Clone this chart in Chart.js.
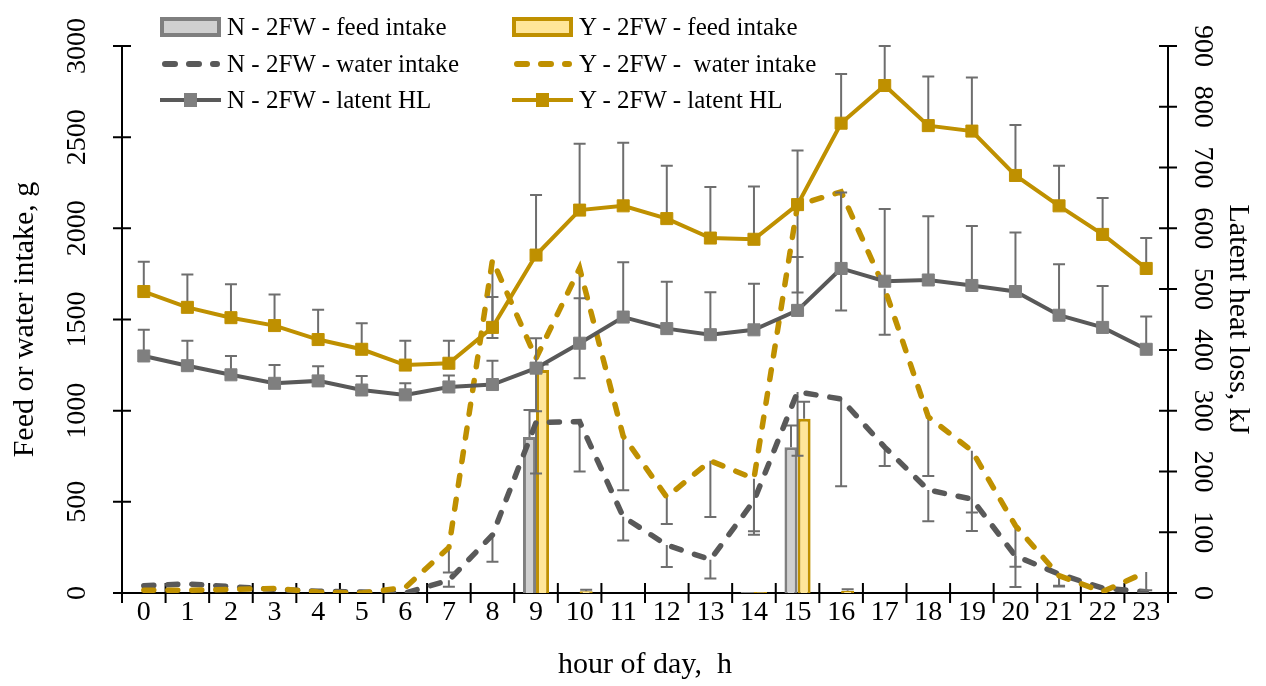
<!DOCTYPE html>
<html>
<head>
<meta charset="utf-8">
<script src="https://cdn.jsdelivr.net/npm/chart.js@4.4.1/dist/chart.umd.min.js"></script>
<style>
    html, body { margin: 0; padding: 0; background: #fff; }
    #wrap { position: relative; width: 1266px; height: 686px; }
    #legend { position: absolute; left: 0; top: 0; font-family: 'Liberation Serif', 'Times New Roman', serif; font-size: 25px; color: #000; }
    .item { position: absolute; display: flex; align-items: center; white-space: pre; height: 30px; }
    .item svg { margin-right: 6px; flex: none; }
</style>
</head>
<body>
<div id="wrap">
    <canvas id="chart" width="1266" height="686"></canvas>
    <div id="legend"></div>
</div>
<script>
// hour of day
const hours = ['0', '1', '2', '3', '4', '5', '6', '7', '8', '9', '10', '11',
               '12', '13', '14', '15', '16', '17', '18', '19', '20', '21', '22', '23'];

// feed intake, g (bars)
const feedN = [0, 0, 0, 0, 0, 0, 0, 0, 0, 855, 0, 0, 0, 0, 5, 800, 0, 0, 0, 0, 0, 0, 0, 0];
const feedY = [0, 0, 0, 0, 0, 0, 0, 0, 0, 1223, 10, 0, 0, 0, 5, 956, 12, 0, 0, 0, 0, 0, 0, 0];
const feedNErr = [0, 0, 0, 0, 0, 0, 0, 0, 0, 148, 0, 0, 0, 0, 0, 119, 0, 0, 0, 0, 0, 0, 0, 0];
const feedYErr = [0, 0, 0, 0, 0, 0, 0, 0, 0, 30, 8, 0, 0, 0, 0, 93, 8, 0, 0, 0, 0, 0, 0, 0];

// water intake, g (dashed lines), error bars point down
const waterN = [40, 50, 35, 20, 10, 5, 0, 70, 318, 935, 940, 418, 263, 183, 506, 1103, 1064, 800, 565, 515, 203, 104, 27, 7];
const waterY = [15, 15, 20, 25, 5, 0, 30, 250, 1826, 1287, 1781, 860, 526, 725, 627, 2128, 2200, 1670, 966, 780, 369, 95, 7, 115];
const waterNErr = [0, 0, 0, 0, 0, 0, 0, 36, 146, 280, 274, 130, 120, 104, 186, 350, 479, 104, 172, 175, 170, 64, 0, 0];
const waterYErr = [0, 0, 0, 0, 0, 0, 0, 137, 428, 290, 603, 296, 148, 308, 288, 480, 650, 254, 324, 339, 225, 60, 0, 100];

// latent heat loss, kJ (right axis), error bars point up
const latentN = [390, 374, 359, 345, 349, 334, 326, 339, 343, 370, 411, 454, 435, 425, 433, 465, 534, 513, 515, 506, 496, 457, 437, 401];
const latentY = [496, 470, 453, 440, 417, 401, 375, 378, 437, 556, 630, 637, 616, 584, 582, 639, 773, 835, 769, 760, 687, 637, 590, 534];
const latentNErr = [43, 41, 31, 30, 24, 23, 19, 19, 39, 49, 74, 90, 77, 70, 76, 88, 125, 119, 105, 98, 97, 84, 68, 54];
const latentYErr = [49, 54, 55, 51, 49, 43, 40, 37, 50, 99, 109, 104, 87, 84, 87, 89, 81, 65, 81, 88, 83, 66, 60, 50];

const leftTicks = [0, 500, 1000, 1500, 2000, 2500, 3000];
const rightTicks = [0, 100, 200, 300, 400, 500, 600, 700, 800, 900];

const gold = '#BF9000';
const goldLight = '#FFE699';
const grayDark = '#595959';
const grayMid = '#7F7F7F';
const grayLight = '#D0D0D0';
const errColor = '#6E6E6E';
const serif = "'Liberation Serif', 'Times New Roman', serif";
const dash = [10, 14];

Chart.defaults.font.family = serif;
Chart.defaults.color = '#000';

// error bars, drawn just under each dataset
const errorBars = {
    id: 'errorBars',
    beforeDatasetDraw(chart, args) {
        const ds = chart.data.datasets[args.index];
        if (!ds.errPlus && !ds.errMinus) return;
        const meta = args.meta;
        const yScale = chart.scales[meta.yAxisID];
        const ctx = chart.ctx;
        const cap = 6;
        ctx.save();
        ctx.strokeStyle = errColor;
        ctx.lineWidth = 2;
        meta.data.forEach((el, i) => {
            const v = ds.data[i];
            const up = ds.errPlus ? ds.errPlus[i] : 0;
            const dn = ds.errMinus ? ds.errMinus[i] : 0;
            const x = el.x;
            const y = yScale.getPixelForValue(v);
            ctx.beginPath();
            if (up) {
                const yt = yScale.getPixelForValue(v + up);
                ctx.moveTo(x, y); ctx.lineTo(x, yt);
                ctx.moveTo(x - cap, yt); ctx.lineTo(x + cap, yt);
            }
            if (dn) {
                const yb = yScale.getPixelForValue(v - dn);
                ctx.moveTo(x, y); ctx.lineTo(x, yb);
                ctx.moveTo(x - cap, yb); ctx.lineTo(x + cap, yb);
            }
            ctx.stroke();
        });
        ctx.restore();
    }
};

// axis lines with crossing tick marks, rotated y labels
const axesPlugin = {
    id: 'axesPlugin',
    beforeDatasetsDraw(chart) {
        const { ctx, chartArea: a, scales } = chart;
        const x = scales.x;
        const step = x.getPixelForValue(1) - x.getPixelForValue(0);
        ctx.save();
        ctx.strokeStyle = '#000';
        ctx.lineWidth = 2;
        ctx.beginPath();
        ctx.moveTo(a.left, a.top); ctx.lineTo(a.left, a.bottom);
        ctx.moveTo(a.right, a.top); ctx.lineTo(a.right, a.bottom);
        ctx.moveTo(a.left, a.bottom); ctx.lineTo(a.right, a.bottom);
        for (let i = 0; i <= hours.length; i++) {
            const px = x.getPixelForValue(0) - step / 2 + i * step;
            ctx.moveTo(px, a.bottom - 10); ctx.lineTo(px, a.bottom + 10);
        }
        leftTicks.forEach(t => {
            const py = scales.yL.getPixelForValue(t);
            ctx.moveTo(a.left - 9, py); ctx.lineTo(a.left + 9, py);
        });
        rightTicks.forEach(t => {
            const py = scales.yR.getPixelForValue(t);
            ctx.moveTo(a.right - 9, py); ctx.lineTo(a.right + 9, py);
        });
        ctx.stroke();

        ctx.fillStyle = '#000';
        ctx.font = '28px ' + serif;
        ctx.textAlign = 'center';
        ctx.textBaseline = 'middle';
        leftTicks.forEach(t => {
            ctx.save();
            ctx.translate(a.left - 44, scales.yL.getPixelForValue(t));
            ctx.rotate(-Math.PI / 2);
            ctx.fillText(String(t), 0, 0);
            ctx.restore();
        });
        rightTicks.forEach(t => {
            ctx.save();
            ctx.translate(a.right + 34, scales.yR.getPixelForValue(t));
            ctx.rotate(Math.PI / 2);
            ctx.fillText(String(t), 0, 0);
            ctx.restore();
        });
        ctx.restore();
    }
};

const ctx = document.getElementById('chart').getContext('2d');

new Chart(ctx, {
    type: 'bar',
    data: {
        labels: hours,
        datasets: [
            {
                type: 'line', label: 'Y - 2FW - latent HL', data: latentY, yAxisID: 'yR', order: 0,
                borderColor: gold, borderWidth: 4, tension: 0,
                pointStyle: 'rect', pointRadius: 8.5, pointBackgroundColor: gold, pointBorderColor: gold, pointBorderWidth: 1,
                errPlus: latentYErr
            },
            {
                type: 'line', label: 'N - 2FW - latent HL', data: latentN, yAxisID: 'yR', order: 1,
                borderColor: grayDark, borderWidth: 4, tension: 0,
                pointStyle: 'rect', pointRadius: 8.5, pointBackgroundColor: grayMid, pointBorderColor: grayMid, pointBorderWidth: 1,
                errPlus: latentNErr
            },
            {
                type: 'line', label: 'Y - 2FW -  water intake', data: waterY, yAxisID: 'yL', order: 2,
                borderColor: gold, borderWidth: 5.5, borderDash: dash, borderCapStyle: 'round', tension: 0,
                pointRadius: 0, errMinus: waterYErr
            },
            {
                type: 'line', label: 'N - 2FW - water intake', data: waterN, yAxisID: 'yL', order: 3,
                borderColor: grayDark, borderWidth: 5.5, borderDash: dash, borderCapStyle: 'round', tension: 0,
                pointRadius: 0, errMinus: waterNErr
            },
            {
                label: 'N - 2FW - feed intake', data: feedN, yAxisID: 'yL', order: 4,
                backgroundColor: grayLight, borderColor: grayMid, borderWidth: 3,
                barPercentage: 1, categoryPercentage: 0.6, errPlus: feedNErr
            },
            {
                label: 'Y - 2FW - feed intake', data: feedY, yAxisID: 'yL', order: 5,
                backgroundColor: goldLight, borderColor: gold, borderWidth: 3,
                barPercentage: 1, categoryPercentage: 0.6, errPlus: feedYErr
            }
        ]
    },
    options: {
        responsive: false,
        animation: false,
        layout: { padding: { top: 46, left: 0, right: 0, bottom: 0 } },
        plugins: {
            legend: { display: false },
            tooltip: { enabled: false }
        },
        scales: {
            x: {
                type: 'category',
                offset: true,
                grid: { display: false, drawTicks: false },
                border: { display: false },
                ticks: { font: { size: 28 }, padding: 3, maxRotation: 0, autoSkip: false },
                title: { display: true, text: 'hour of day,  h', font: { size: 30 }, padding: { top: 0, bottom: 3 } },
                afterFit: (s) => { s.height = 93; }
            },
            yL: {
                position: 'left',
                min: 0, max: 3000,
                ticks: { display: false, stepSize: 500 },
                grid: { display: false, drawTicks: false },
                border: { display: false },
                title: { display: true, text: 'Feed or water intake, g', font: { size: 30 }, padding: { top: 7, bottom: 0 } },
                afterFit: (s) => { s.width = 122; }
            },
            yR: {
                position: 'right',
                min: 0, max: 900,
                ticks: { display: false, stepSize: 100 },
                grid: { display: false, drawTicks: false },
                border: { display: false },
                title: { display: true, text: 'Latent heat loss, kJ', font: { size: 30 }, padding: { top: 10, bottom: 0 } },
                afterFit: (s) => { s.width = 98; }
            }
        }
    },
    plugins: [axesPlugin, errorBars]
});

// legend: two columns, three rows
const legendItems = [
    { text: 'N - 2FW - feed intake', kind: 'bar', stroke: grayMid, fill: grayLight, col: 0, row: 0 },
    { text: 'Y - 2FW - feed intake', kind: 'bar', stroke: gold, fill: goldLight, col: 1, row: 0 },
    { text: 'N - 2FW - water intake', kind: 'dash', stroke: grayDark, col: 0, row: 1 },
    { text: 'Y - 2FW -  water intake', kind: 'dash', stroke: gold, col: 1, row: 1 },
    { text: 'N - 2FW - latent HL', kind: 'line', stroke: grayDark, fill: grayMid, col: 0, row: 2 },
    { text: 'Y - 2FW - latent HL', kind: 'line', stroke: gold, fill: gold, col: 1, row: 2 }
];
const colX = [160, 512];
const rowY = [27, 64, 100];

function icon(it) {
    if (it.kind === 'bar') {
        return `<svg width="61" height="20"><rect x="2" y="2" width="57" height="16" fill="${it.fill}" stroke="${it.stroke}" stroke-width="4"/></svg>`;
    }
    if (it.kind === 'dash') {
        return `<svg width="61" height="20"><line x1="5" y1="10" x2="57" y2="10" stroke="${it.stroke}" stroke-width="6" stroke-dasharray="10 14" stroke-linecap="round"/></svg>`;
    }
    return `<svg width="61" height="20"><line x1="0" y1="10" x2="61" y2="10" stroke="${it.stroke}" stroke-width="4"/><rect x="24" y="3" width="13" height="14" fill="${it.fill}"/></svg>`;
}

const legend = document.getElementById('legend');
legendItems.forEach(it => {
    const d = document.createElement('div');
    d.className = 'item';
    d.style.left = colX[it.col] + 'px';
    d.style.top = (rowY[it.row] - 15) + 'px';
    d.innerHTML = icon(it) + '<span></span>';
    d.querySelector('span').textContent = it.text;
    legend.appendChild(d);
});
</script>
</body>
</html>
